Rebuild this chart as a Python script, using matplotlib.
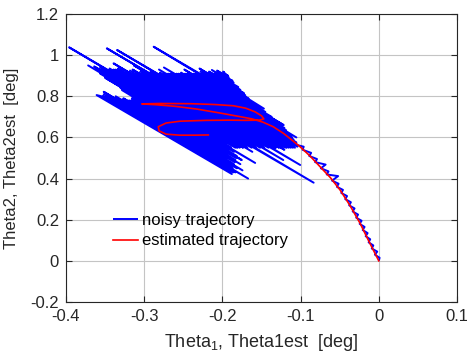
import matplotlib
matplotlib.use('Agg')
import matplotlib.pyplot as plt

plt.rcParams['font.family'] = ['Liberation Sans', 'DejaVu Sans']
plt.rcParams['mathtext.fontset'] = 'custom'
plt.rcParams['mathtext.rm'] = 'Liberation Sans'
plt.rcParams['axes.unicode_minus'] = False
plt.rcParams['path.simplify'] = False

# noisy trajectory: tail near the origin, then the wide noisy band (two sweeps)
noisy_theta1 = [
    # tail
    0.000, 0.001, -0.005, -0.002, -0.009, -0.007, -0.013, -0.011, -0.0168, -0.0143,
    -0.0206, -0.0182, -0.0245, -0.0220, -0.0289, -0.0265, -0.0334, -0.0310, -0.0379, -0.0357,
    -0.0429, -0.0406, -0.0480, -0.0458, -0.0536, -0.0514, -0.0598, -0.0520, -0.0666, -0.0643,
    -0.0741, -0.0680, -0.0815, -0.0790, -0.0890, -0.0865, -0.0975, -0.0960,
    # sweep 1
    -0.3609, -0.1879, -0.3527, -0.1861, -0.3518, -0.1671, -0.3518, -0.1888, -0.3365, -0.1743,
    -0.3266, -0.1960, -0.3167, -0.1770, -0.3158, -0.1942, -0.3284, -0.1752, -0.3500, -0.1924,
    -0.3717, -0.1581, -0.3640, -0.1951, -0.3563, -0.1807, -0.3960, -0.1852, -0.3442, -0.1617,
    -0.3365, -0.1698, -0.3334, -0.0833, -0.3392, -0.1590, -0.3181, -0.1221, -0.3149, -0.1482,
    -0.3050, -0.1005, -0.3131, -0.1329, -0.3478, -0.1347, -0.2919, -0.1207, -0.3347, -0.1230,
    -0.2798, -0.1153, -0.2811, -0.1099, -0.2667, -0.1090, -0.2748, -0.1081, -0.2559, -0.1054,
    -0.2527, -0.1108, -0.2451, -0.1054, -0.2487, -0.1207, -0.2343, -0.1216, -0.2879, -0.1451,
    -0.2280, -0.1469, -0.2293, -0.1707, -0.2171, -0.1770, -0.2135, -0.1856, -0.2068, -0.1919,
    -0.1991, -0.1982,
    # sweep 2
    -0.1973, -0.1928, -0.2027, -0.1870, -0.2090, -0.1797, -0.2153, -0.1725, -0.2207, -0.1667,
    -0.2262, -0.1518, -0.2316, -0.1370, -0.2370, -0.1243, -0.2424, -0.1185, -0.2478, -0.1126,
    -0.2532, -0.1090, -0.2586, -0.1054, -0.2640, -0.1041, -0.2694, -0.1072, -0.2748, -0.1126,
    -0.2802, -0.1180, -0.2852, -0.1230, -0.2897, -0.1275, -0.2937, -0.1315, -0.2978, -0.1356,
    -0.3032, -0.1410, -0.3086, -0.1464, -0.3140, -0.1518, -0.3194, -0.1572, -0.3338, -0.1626,
    -0.3392, -0.1680, -0.3446, -0.1734, -0.3491, -0.1779, -0.3545, -0.1834, -0.3599, -0.1888,
    -0.3563, -0.1852, -0.3302, -0.1816, -0.3131, -0.1825, -0.3140, -0.1834, -0.3194, -0.1843,
    -0.3271, -0.1852, -0.3347, -0.1816, -0.3401, -0.1870, -0.3455, -0.1834, -0.3509, -0.1888,
]
noisy_theta2 = [
    # tail
    0.000, 0.015, 0.030, 0.045, 0.060, 0.075, 0.090, 0.105, 0.120, 0.135,
    0.150, 0.165, 0.180, 0.195, 0.210, 0.225, 0.240, 0.255, 0.270, 0.285,
    0.300, 0.315, 0.330, 0.345, 0.360, 0.375, 0.390, 0.412, 0.420, 0.435,
    0.450, 0.468, 0.480, 0.495, 0.510, 0.525, 0.540, 0.555,
    # sweep 1
    0.806, 0.422, 0.800, 0.430, 0.810, 0.400, 0.822, 0.460, 0.800, 0.440,
    0.790, 0.500, 0.780, 0.470, 0.790, 0.520, 0.830, 0.490, 0.890, 0.540,
    0.950, 0.476, 0.945, 0.570, 0.940, 0.550, 1.038, 0.570, 0.935, 0.530,
    0.930, 0.560, 0.935, 0.380, 0.960, 0.560, 0.925, 0.490, 0.930, 0.560,
    0.920, 0.466, 0.950, 0.550, 1.033, 0.560, 0.920, 0.540, 1.025, 0.555,
    0.915, 0.550, 0.930, 0.550, 0.910, 0.560, 0.940, 0.570, 0.910, 0.576,
    0.915, 0.600, 0.910, 0.600, 0.930, 0.646, 0.910, 0.660, 1.041, 0.724,
    0.920, 0.740, 0.935, 0.805, 0.920, 0.831, 0.928, 0.866, 0.925, 0.892,
    0.920, 0.918,
    # sweep 2
    0.910, 0.900, 0.910, 0.875, 0.910, 0.845, 0.910, 0.815, 0.910, 0.790,
    0.910, 0.745, 0.910, 0.700, 0.910, 0.660, 0.910, 0.635, 0.910, 0.610,
    0.910, 0.590, 0.910, 0.570, 0.910, 0.555, 0.910, 0.550, 0.910, 0.550,
    0.910, 0.550, 0.910, 0.550, 0.910, 0.550, 0.910, 0.550, 0.910, 0.550,
    0.910, 0.550, 0.910, 0.550, 0.910, 0.550, 0.910, 0.550, 0.930, 0.550,
    0.930, 0.550, 0.930, 0.550, 0.930, 0.550, 0.930, 0.550, 0.930, 0.550,
    0.910, 0.530, 0.840, 0.510, 0.790, 0.500, 0.780, 0.490, 0.780, 0.480,
    0.785, 0.470, 0.790, 0.450, 0.790, 0.450, 0.790, 0.430, 0.790, 0.430,
]

# estimated trajectory
est_theta1 = [
    0.000, -0.012, -0.024, -0.037, -0.0496, -0.062, -0.0752, -0.088, -0.1008, -0.112,
    -0.122, -0.135, -0.148, -0.162, -0.1775, -0.205, -0.233, -0.260, -0.285, -0.303,
    -0.280, -0.240, -0.210, -0.186, -0.170, -0.158, -0.150, -0.147, -0.153, -0.170,
    -0.190, -0.220, -0.254, -0.272, -0.282, -0.281, -0.272, -0.255, -0.235, -0.218,
]
est_theta2 = [
    0.000, 0.090, 0.183, 0.270, 0.345, 0.405, 0.458, 0.510, 0.555, 0.590,
    0.620, 0.652, 0.674, 0.690, 0.701, 0.720, 0.738, 0.751, 0.759, 0.763,
    0.765, 0.764, 0.760, 0.754, 0.742, 0.724, 0.705, 0.690, 0.684, 0.683,
    0.684, 0.683, 0.679, 0.670, 0.652, 0.632, 0.616, 0.611, 0.611, 0.612,
]

xticks = [-0.4, -0.3, -0.2, -0.1, 0.0, 0.1]
xtick_labels = ['-0.4', '-0.3', '-0.2', '-0.1', '0', '0.1']
yticks = [-0.2, 0.0, 0.2, 0.4, 0.6, 0.8, 1.0, 1.2]
ytick_labels = ['-0.2', '0', '0.2', '0.4', '0.6', '0.8', '1', '1.2']

fig = plt.figure(figsize=(4.67, 3.61), dpi=100)
ax = fig.add_axes([66 / 467, 1 - 302 / 361, 391 / 467, 288 / 361])

ax.plot(noisy_theta1, noisy_theta2, color='#0000ff', lw=1.4,
        solid_capstyle='butt', label='noisy trajectory')
ax.plot(est_theta1, est_theta2, color='#ff0000', lw=1.2, label='estimated trajectory')

ax.set_xlim(-0.4, 0.1)
ax.set_ylim(-0.2, 1.2)
ax.set_xticks(xticks)
ax.set_xticklabels(xtick_labels)
ax.set_yticks(yticks)
ax.set_yticklabels(ytick_labels)
ax.set_axisbelow(True)
ax.grid(True, color='#c4c4c4', lw=0.8)
ax.tick_params(direction='in', top=True, right=True, length=4, width=0.8,
               labelsize=12, colors='#262626', pad=5)
for s in ax.spines.values():
    s.set_color('#262626')
    s.set_linewidth(0.8)

ax.set_xlabel('Theta$_{\\mathrm{1}}$, Theta1est  [deg]', fontsize=13, color='#262626', labelpad=6)
ax.set_ylabel('Theta2, Theta2est  [deg]', fontsize=12, color='#262626', labelpad=8)

ax.legend(loc='center left', bbox_to_anchor=(0.12, 0.248), frameon=False, fontsize=12,
          handlelength=1.5, handletextpad=0.25, borderpad=0, borderaxespad=0,
          labelspacing=0.35)

fig.savefig('out.png', dpi=100)
